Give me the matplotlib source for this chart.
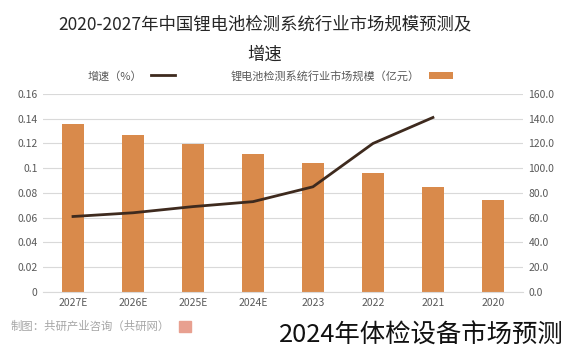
import matplotlib
matplotlib.use("Agg")
import matplotlib.pyplot as plt
import numpy as np

plt.rcParams['font.family'] = ['Noto Sans CJK SC', 'DejaVu Sans']

# data, chronological order
years = ["2020", "2021", "2022", "2023", "2024E", "2025E", "2026E", "2027E"]
market_size = [74.3, 84.8, 96.2, 104.2, 111.5, 119.6, 126.9, 135.8]   # 亿元
growth = [None, 0.141, 0.120, 0.085, 0.073, 0.069, 0.064, 0.061]       # 增速
size_ticks = [0, 20, 40, 60, 80, 100, 120, 140, 160]
growth_ticks = [0, 0.02, 0.04, 0.06, 0.08, 0.10, 0.12, 0.14, 0.16]

bar_color = "#d98a4b"
line_color = "#3e2a1e"
text_gray = "#595959"

fig = plt.figure(figsize=(5.69, 3.53), dpi=100)
ax = fig.add_axes([0.0756, 0.1728, 0.8434, 0.561])
x = np.arange(len(years))

# bars on the primary axis
bars = ax.bar(x, market_size, width=0.38, color=bar_color, zorder=2,
              label="锂电池检测系统行业市场规模（亿元）")
ax.set_ylim(0, 160)
ax.set_yticks(size_ticks)
ax.set_yticklabels([f"{v:.1f}" for v in size_ticks])
ax.grid(axis="y", color="#d9d9d9", linewidth=0.8, zorder=0)
ax.set_axisbelow(True)
ax.set_xticks(x)
ax.set_xticklabels(years)
ax.set_xlim(-0.5, len(years) - 0.5)
ax.invert_xaxis()

# growth line on the twin axis
ax2 = ax.twinx()
gx = [i for i, g in enumerate(growth) if g is not None]
gy = [g for g in growth if g is not None]
line, = ax2.plot(gx, gy, color=line_color, linewidth=2, solid_joinstyle="round",
                 zorder=3, label="增速（%）")
ax2.set_ylim(0, 0.16)
ax2.set_yticks(growth_ticks)
ax2.set_yticklabels(["0", "0.02", "0.04", "0.06", "0.08", "0.1", "0.12", "0.14", "0.16"])

# swap sides: growth on the left, size on the right
ax2.yaxis.tick_left()
ax.yaxis.tick_right()

for a in (ax, ax2):
    for s in a.spines.values():
        s.set_visible(False)
    a.tick_params(length=0, labelsize=7.5, colors=text_gray, pad=4)
ax.spines["bottom"].set_visible(True)
ax.spines["bottom"].set_color("#d9d9d9")

# title
fig.text(0.465, 0.932, "2020-2027年中国锂电池检测系统行业市场规模预测及", ha="center",
         va="center", fontsize=12.5, color="#262626")
fig.text(0.465, 0.844, "增速", ha="center", va="center", fontsize=12.5, color="#262626")

# legend
fig.legend(handles=[line, bars], loc="center", bbox_to_anchor=(0.475, 0.785), ncol=2,
           frameon=False, markerfirst=False, fontsize=8, handlelength=2.2,
           columnspacing=5, labelcolor=text_gray)

# source note
fig.text(0.298, 0.075, "制图：共研产业咨询（共研网）", ha="right", va="center",
         fontsize=8.2, color="#a6a6a6")
fig.patches.append(plt.Rectangle((0.315, 0.060), 0.02, 0.03, transform=fig.transFigure,
                                 color="#e8a090", figure=fig))

# overlay caption
fig.text(0.49, 0.05, "2024年体检设备市场预测", ha="left", va="center",
         fontsize=18.3, color="#111111")

fig.savefig("out.png", dpi=100, facecolor="white")
